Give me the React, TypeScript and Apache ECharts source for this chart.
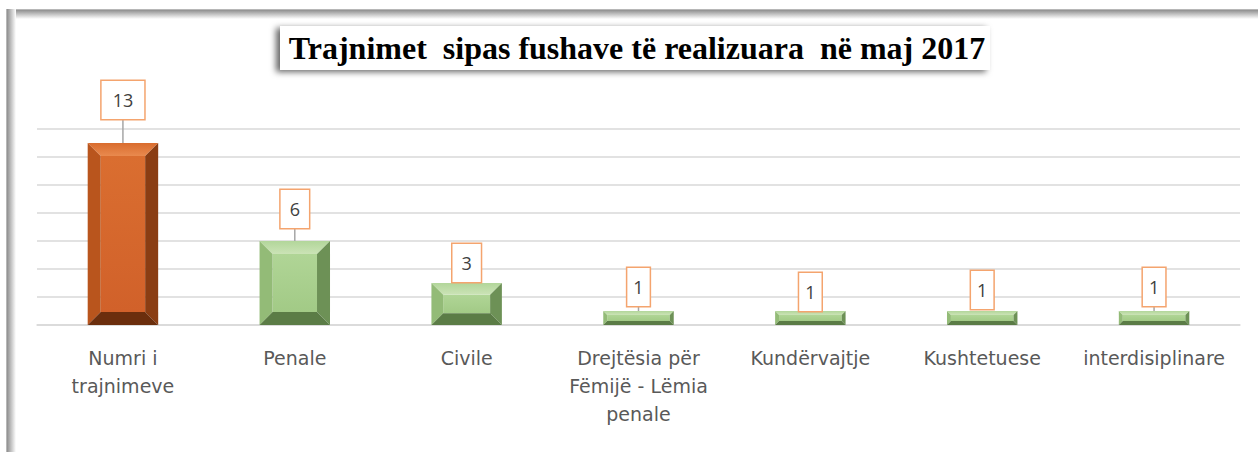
import React, { useEffect, useRef } from "react";
import * as echarts from "echarts";

// ---- data ----
const categories: string[] = [
  "Numri i\ntrajnimeve",
  "Penale",
  "Civile",
  "Drejtësia për\nFëmijë - Lëmia\npenale",
  "Kundërvajtje",
  "Kushtetuese",
  "interdisiplinare",
];
const values: number[] = [13, 6, 3, 1, 1, 1, 1];
const titleText = "Trajnimet  sipas fushave të realizuara  në maj 2017";
const yMin = 0;
const yMax = 14;
const yInterval = 2;

// ---- layout (pixels between bar top and label box) ----
const labelGaps: number[] = [24, 13, 1, 5, 0, 2, 5];

const ORANGE = {
  face: ["#DA6E30", "#D1612A"],
  top: ["#E98A4E", "#D96C2E"],
  left: "#B9551D",
  right: "#8A3D13",
  bottom: "#6B2E0D",
};
const GREEN = {
  face: ["#B0D596", "#A2CA86"],
  top: ["#CBE3B6", "#B2D69A"],
  left: "#93BB77",
  right: "#6D9156",
  bottom: "#5B7C46",
};

function renderItem(params: any, api: any) {
  const idx = api.value(0);
  const v = api.value(1);
  const top = api.coord([idx, v]);
  const base = api.coord([idx, 0]);
  const bw = api.size([1, 0])[0] * 0.41;
  const x0 = top[0] - bw / 2;
  const x1 = top[0] + bw / 2;
  const y0 = top[1];
  const y1 = base[1];
  const h = y1 - y0;
  const b = Math.min(13, h * 0.28, bw * 0.2);
  const pal = idx === 0 ? ORANGE : GREEN;
  const gap = labelGaps[idx] ?? 6;
  const boxBottom = y0 - gap;
  const txt = String(v);
  const padH = txt.length > 1 ? 11 : txt === "1" ? 6 : 9;
  const children: any[] = [
    {
      type: "rect",
      shape: { x: x0 + b, y: y0 + b, width: bw - 2 * b, height: Math.max(0, h - 2 * b) },
      style: {
        fill: new echarts.graphic.LinearGradient(0, 0, 0, 1, [
          { offset: 0, color: pal.face[0] },
          { offset: 1, color: pal.face[1] },
        ]),
      },
    },
    {
      type: "polygon",
      shape: { points: [[x0, y0], [x1, y0], [x1 - b, y0 + b], [x0 + b, y0 + b]] },
      style: {
        fill: new echarts.graphic.LinearGradient(0, 0, 0, 1, [
          { offset: 0, color: pal.top[1] },
          { offset: 1, color: pal.top[0] },
        ]),
      },
    },
    {
      type: "polygon",
      shape: { points: [[x0, y0], [x0 + b, y0 + b], [x0 + b, y1 - b], [x0, y1]] },
      style: { fill: pal.left },
    },
    {
      type: "polygon",
      shape: { points: [[x1, y0], [x1, y1], [x1 - b, y1 - b], [x1 - b, y0 + b]] },
      style: { fill: pal.right },
    },
    {
      type: "polygon",
      shape: { points: [[x0, y1], [x0 + b, y1 - b], [x1 - b, y1 - b], [x1, y1]] },
      style: { fill: pal.bottom },
    },
  ];
  if (gap > 2) {
    children.push({
      type: "line",
      shape: { x1: top[0], y1: boxBottom, x2: top[0], y2: y0 },
      style: { stroke: "#A6A6A6", lineWidth: 1.5 },
    });
  }
  children.push({
    type: "text",
    x: top[0],
    y: boxBottom,
    style: {
      text: txt,
      fill: "#404040",
      font: '18px "Open Sans"',
      align: "center",
      verticalAlign: "bottom",
      backgroundColor: "#FFFFFF",
      borderColor: "#F4A46E",
      borderWidth: 1.5,
      padding: [10, padH, 10, padH],
    },
  });
  return { type: "group", children };
}

export default function App() {
  const ref = useRef<HTMLDivElement>(null);
  useEffect(() => {
    if (!ref.current) return;
    const chart = echarts.init(ref.current, undefined, { renderer: "svg" });
    chart.setOption({
      animation: false,
      backgroundColor: "#FFFFFF",
      grid: { left: 37, right: 18, top: 129, bottom: 127 },
      xAxis: {
        type: "category",
        data: categories,
        axisLine: { show: true, lineStyle: { color: "#D9D9D9", width: 1.5 } },
        axisTick: { show: false },
        axisLabel: {
          interval: 0,
          color: "#595959",
          fontSize: 19,
          lineHeight: 28,
          margin: 19,
          fontFamily: "DejaVu Sans",
        },
      },
      yAxis: {
        type: "value",
        min: yMin,
        max: yMax,
        interval: yInterval,
        axisLine: { show: false },
        axisTick: { show: false },
        axisLabel: { show: false },
        splitLine: { show: true, lineStyle: { color: "#D9D9D9", width: 1.5 } },
      },
      series: [
        {
          type: "custom",
          renderItem,
          clip: false,
          encode: { x: 0, y: 1 },
          data: values.map((v, i) => [i, v]),
        },
      ],
      graphic: [
        {
          type: "rect",
          silent: true,
          shape: { x: 6, y: 9, width: 1260, height: 10 },
          style: {
            fill: new echarts.graphic.LinearGradient(0, 0, 0, 1, [
              { offset: 0, color: "#C8C8C8" },
              { offset: 0.15, color: "#959595" },
              { offset: 1, color: "#FFFFFF" },
            ]),
          },
          z: 10,
        },
        {
          type: "rect",
          silent: true,
          shape: { x: 6, y: 9, width: 10, height: 450 },
          style: {
            fill: new echarts.graphic.LinearGradient(0, 0, 1, 0, [
              { offset: 0, color: "#C8C8C8" },
              { offset: 0.15, color: "#959595" },
              { offset: 1, color: "#FFFFFF" },
            ]),
          },
          z: 10,
        },
        {
          type: "rect",
          shape: { x: 280, y: 26, width: 710, height: 44 },
          style: {
            fill: "#FFFFFF",
            shadowColor: "rgba(0,0,0,0.6)",
            shadowBlur: 6,
            shadowOffsetX: -4,
            shadowOffsetY: 2,
          },
          z: 10,
        },
        {
          type: "text",
          x: 637,
          y: 48,
          style: {
            text: titleText,
            fill: "#000000",
            font: 'bold 32px "Liberation Serif"',
            align: "center",
            verticalAlign: "middle",
          },
          z: 11,
        },
      ],
    });
    return () => chart.dispose();
  }, []);
  return (
    <div
      ref={ref}
      style={{ position: "absolute", left: 0, top: 0, width: 1258, height: 452 }}
    />
  );
}
